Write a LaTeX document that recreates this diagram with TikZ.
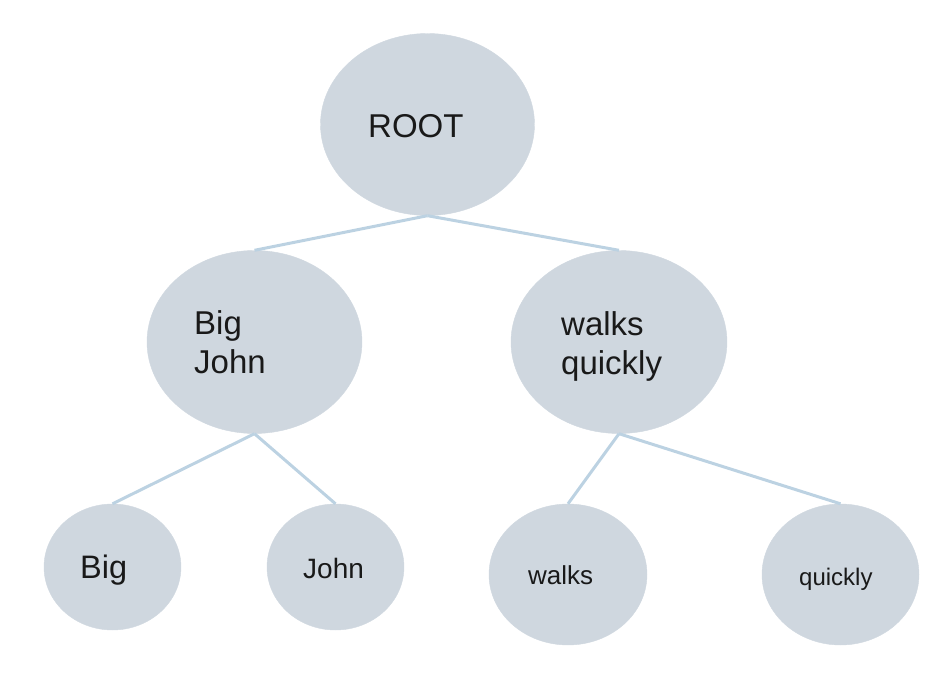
\documentclass[tikz,border=0pt]{standalone}
\usepackage{fontspec}
\setmainfont{Liberation Sans}
\usetikzlibrary{shapes.geometric}
\definecolor{bubble}{RGB}{207,215,223}
\definecolor{edgeline}{RGB}{188,210,226}
\definecolor{ink}{RGB}{25,25,25}
\tikzset{
  bubble/.style={ellipse, fill=bubble, draw=bubble, inner sep=0pt},
  word/.style={text=ink, inner sep=0pt, align=left},
  branch/.style={draw=edgeline, line width=3pt}
}
\begin{document}
\begin{tikzpicture}[x=1pt, y=-1pt]
    \useasboundingbox (0,0) rectangle (946,693);
    \node (root) [bubble, minimum width=214pt, minimum height=182pt] at (427.5,124.5) {};
    \node (bigjohn) [bubble, minimum width=215pt, minimum height=183pt] at (254.5,342) {};
    \node (walksquickly) [bubble, minimum width=216pt, minimum height=183pt] at (619,342) {};
    \node (big) [bubble, minimum width=137pt, minimum height=126pt] at (112.5,567) {};
    \node (john) [bubble, minimum width=137pt, minimum height=126pt] at (335.5,567) {};
    \node (walks) [bubble, minimum width=158pt, minimum height=141pt] at (568,574.5) {};
    \node (quickly) [bubble, minimum width=157pt, minimum height=141pt] at (840.5,574.5) {};
    \node (root-t) [word, anchor=base west, font=\fontsize{33}{39}\selectfont] at (368,138) {ROOT};
    \node (bigjohn-t) [word, anchor=west, font=\fontsize{33}{39}\selectfont] at (194,342.5) {Big\\John};
    \node (walksquickly-t) [word, anchor=west, font=\fontsize{33}{39}\selectfont] at (561,346) {walks\\quickly};
    \node (big-t) [word, anchor=base west, font=\fontsize{32.5}{39}\selectfont] at (80,578) {Big};
    \node (john-t) [word, anchor=base west, font=\fontsize{28}{34}\selectfont] at (303,578) {John};
    \node (walks-t) [word, anchor=base west, font=\fontsize{26}{31}\selectfont] at (528,584) {walks};
    \node (quickly-t) [word, anchor=base west, font=\fontsize{24}{29}\selectfont] at (799,585) {quickly};
    \draw[branch] (root.south) -- (bigjohn.north);
    \draw[branch] (root.south) -- (walksquickly.north);
    \draw[branch] (bigjohn.south) -- (big.north);
    \draw[branch] (bigjohn.south) -- (john.north);
    \draw[branch] (walksquickly.south) -- (walks.north);
    \draw[branch] (walksquickly.south) -- (quickly.north);
  \end{tikzpicture}
\end{document}
